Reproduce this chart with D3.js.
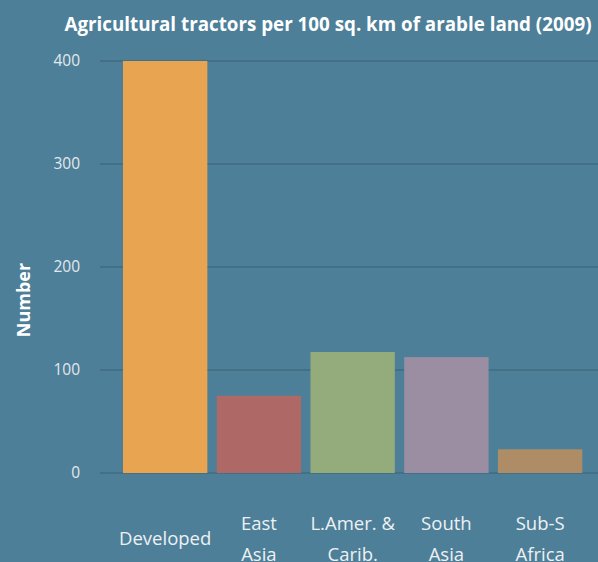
<!DOCTYPE html>
<html>
<head>
<meta charset="utf-8">
<script src="https://cdn.jsdelivr.net/npm/d3@7"></script>
<style>
  body { margin: 0; background: #4d7f99; }
  svg { display: block; font-family: "Open Sans", "Noto Sans", sans-serif; }
</style>
</head>
<body>
<script>
var regions = [["Developed"], ["East", "Asia"], ["L.Amer. &", "Carib."], ["South", "Asia"], ["Sub-S", "Africa"]];
var tractors = [400, 75, 117.5, 112.5, 23];
var barColors = ["#e9a451", "#ae6866", "#94ab7c", "#9c8ea2", "#ae8d66"];
var yTicks = [0, 100, 200, 300, 400];

var width = 598, height = 562;
var svg = d3.select("body").append("svg")
    .attr("width", width)
    .attr("height", height);

svg.append("rect").attr("width", width).attr("height", height).attr("fill", "#4d7f99");

var x = d3.scaleBand()
    .domain(d3.range(regions.length))
    .range([118.3, 587])
    .paddingInner(0.1)
    .paddingOuter(0.05);

var y = d3.scaleLinear().domain([0, 400]).range([473, 61]);

// gridlines
svg.append("g").selectAll("line")
    .data(yTicks).enter().append("line")
    .attr("x1", 100).attr("x2", width)
    .attr("y1", function(d) { return y(d); })
    .attr("y2", function(d) { return y(d); })
    .attr("stroke", "#436f87")
    .attr("stroke-width", 2);

// tick labels
svg.append("g").selectAll("text")
    .data(yTicks).enter().append("text")
    .attr("x", 80)
    .attr("y", function(d) { return y(d); })
    .attr("dy", "0.35em")
    .attr("text-anchor", "end")
    .attr("fill", "#e3e8ec")
    .attr("font-size", 15.5)
    .text(function(d) { return d; });

// bars
svg.append("g").selectAll("rect")
    .data(tractors).enter().append("rect")
    .attr("x", function(d, i) { return x(i); })
    .attr("width", x.bandwidth())
    .attr("y", function(d) { return y(d); })
    .attr("height", function(d) { return y(0) - y(d); })
    .attr("fill", function(d, i) { return barColors[i]; });

// x labels
var lab = svg.append("g").selectAll("text")
    .data(regions).enter().append("text")
    .attr("text-anchor", "middle")
    .attr("fill", "#eef1f3")
    .attr("font-size", 18.5)
    .attr("transform", function(d, i) { return "translate(" + (x(i) + x.bandwidth() / 2) + ",0)"; });

lab.selectAll("tspan")
    .data(function(d) { return d.map(function(t, k) { return {t: t, k: k, n: d.length}; }); })
    .enter().append("tspan")
    .attr("x", 0)
    .attr("y", function(d) { return 545 + (d.k - (d.n - 1) / 2) * 31; })
    .text(function(d) { return d.t; });

// y axis title
svg.append("text")
    .attr("transform", "translate(30,300) rotate(-90)")
    .attr("text-anchor", "middle")
    .attr("fill", "#ffffff")
    .attr("font-size", 18)
    .attr("font-weight", "bold")
    .text("Number");

// chart title
svg.append("text")
    .attr("x", 328)
    .attr("y", 31)
    .attr("text-anchor", "middle")
    .attr("fill", "#ffffff")
    .attr("font-size", 18.8)
    .attr("font-weight", "bold")
    .text("Agricultural tractors per 100 sq. km of arable land (2009)");
</script>
</body>
</html>
